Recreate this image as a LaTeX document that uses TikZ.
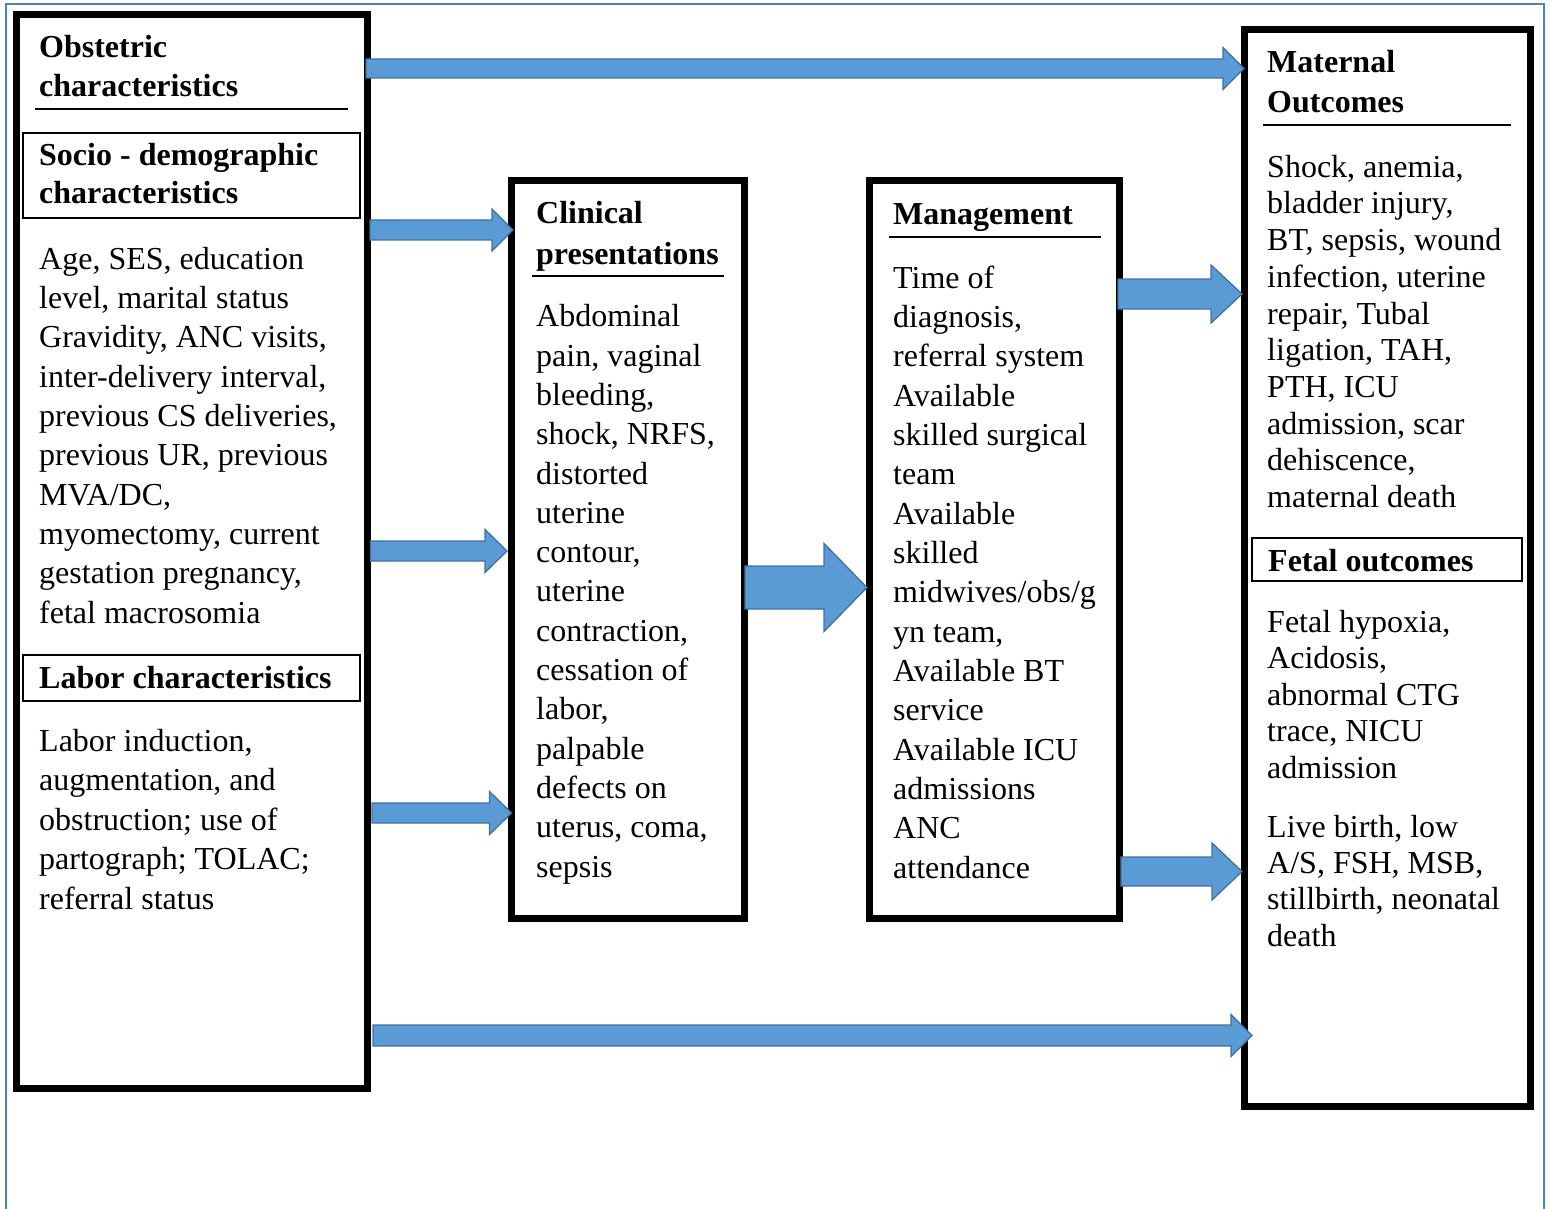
\documentclass[tikz,border=0pt]{standalone}
\usepackage{fontspec}
\setmainfont{Liberation Serif}
\usetikzlibrary{calc}
\definecolor{framec}{HTML}{4F81BD}
\definecolor{arrfill}{HTML}{5B9BD5}
\definecolor{arrline}{HTML}{41719C}
\tikzset{
  bigbox/.style={draw=black, line width=7pt, fill=white, inner sep=0pt, outer sep=0pt, anchor=north west},
  subbox/.style={draw=black, line width=1.8pt, inner sep=0pt, outer sep=0pt, anchor=north west},
  txt/.style={inner sep=0pt, align=left, anchor=base west, font=\fontsize{32}{39.33}\selectfont},
  txtr/.style={inner sep=0pt, align=left, anchor=base west, font=\fontsize{32}{36.7}\selectfont},
  head/.style={inner sep=0pt, align=left, anchor=base west, font=\fontsize{32}{39}\selectfont\bfseries},
  uline/.style={line width=1.6pt},
  blockarrow/.style={fill=arrfill, draw=arrline, line width=1.3pt, line join=miter},
}
% #1 start point, #2 end point (x of tip), #3 shaft half height, #4 head half height, #5 head length
\newcommand\blockarr[5]{%
  \draw[blockarrow] let \p1=(#1), \p2=(#2) in
    (\x1,\y1+#3pt) -- (\x2-#5pt,\y1+#3pt) -- (\x2-#5pt,\y1+#4pt) -- (\x2,\y1)
    -- (\x2-#5pt,\y1-#4pt) -- (\x2-#5pt,\y1-#3pt) -- (\x1,\y1-#3pt) -- cycle;}
\begin{document}
\begin{tikzpicture}[x=1pt,y=-1pt]
\useasboundingbox (0,0) rectangle (1550,1209);
% outer frame
\draw[framec, line width=2.2pt] (6,1209) -- (6,4) -- (1544,4) -- (1544,1209);

% main boxes
\node[bigbox, minimum width=351, minimum height=1073] (L) at (16,15) {};
\node[bigbox, minimum width=232.5, minimum height=737] (C) at (511.5,181) {};
\node[bigbox, minimum width=249.5, minimum height=737] (M) at (869.5,181) {};
\node[bigbox, minimum width=286, minimum height=1076] (R) at (1244,30) {};

% sub boxes
\node[subbox, minimum width=337, minimum height=85] (Sbox) at (23,133) {};
\node[subbox, minimum width=337, minimum height=46] (Lbbox) at (23,655) {};
\node[subbox, minimum width=270, minimum height=43] (Fbox) at (1252,538) {};

% (text nodes are anchored at the baseline of their last line)
% left column
\node[head] (Lh) at (39,97) {Obstetric\\characteristics};
\draw[uline] (35,109) -- (348,109);
\node[head, font=\fontsize{32}{37.5}\selectfont\bfseries] (Sh) at (39,203.5) {Socio - demographic\\characteristics};
\node[txt] (Lb) at (39,623) {Age, SES, education\\level, marital status\\Gravidity, ANC visits,\\inter-delivery interval,\\previous CS deliveries,\\previous UR, previous\\MVA/DC,\\myomectomy, current\\gestation pregnancy,\\fetal macrosomia};
\node[head] (Labh) at (39,688) {Labor characteristics};
\node[txt, font=\fontsize{32}{39.5}\selectfont] (Labb) at (39,909) {Labor induction,\\augmentation, and\\obstruction; use of\\partograph; TOLAC;\\referral status};

% clinical
\node[head, font=\fontsize{32}{40}\selectfont\bfseries] (Ch) at (536,264) {Clinical\\presentations};
\draw[uline] (532,276) -- (724,276);
\node[txt, font=\fontsize{32}{39.29}\selectfont] (Cb) at (536,877) {Abdominal\\pain, vaginal\\bleeding,\\shock, NRFS,\\distorted\\uterine\\contour,\\uterine\\contraction,\\cessation of\\labor,\\palpable\\defects on\\uterus, coma,\\sepsis};

% management
\node[head] (Mh) at (893,225) {Management};
\draw[uline] (889,237) -- (1101,237);
\node[txt] (Mb) at (893,878) {Time of\\diagnosis,\\referral system\\Available\\skilled surgical\\team\\Available\\skilled\\midwives/obs/g\\yn team,\\Available BT\\service\\Available ICU\\admissions\\ANC\\attendance};

% right column
\node[head, font=\fontsize{32}{40}\selectfont\bfseries] (Rh) at (1267,113) {Maternal\\Outcomes};
\draw[uline] (1263,125) -- (1511,125);
\node[txtr] (Rb) at (1267,507.5) {Shock, anemia,\\bladder injury,\\BT, sepsis, wound\\infection, uterine\\repair, Tubal\\ligation, TAH,\\PTH, ICU\\admission, scar\\dehiscence,\\maternal death};
\node[head] (Fh) at (1268,571) {Fetal outcomes};
\node[txtr, font=\fontsize{32}{36.5}\selectfont] (Fb) at (1267,778) {Fetal hypoxia,\\Acidosis,\\abnormal CTG\\trace, NICU\\admission};
\node[txtr, font=\fontsize{32}{36.3}\selectfont] (Fb2) at (1267,946) {Live birth, low\\A/S, FSH, MSB,\\stillbirth, neonatal\\death};

% arrow levels
\coordinate (y1) at (0,68.5);
\coordinate (y2) at (0,230);
\coordinate (y3) at (0,551);
\coordinate (y4) at (0,813);
\coordinate (y5) at (0,587.5);
\coordinate (y6) at (0,294);
\coordinate (y7) at (0,871.5);
\coordinate (y8) at (0,1035.5);

% arrows
\blockarr{$(L.east|-y1)+(-1,0)$}{R.west}{9.5}{21}{21}
\blockarr{$(L.east|-y2)+(3,0)$}{$(C.west)+(1.5,0)$}{10}{21}{21}
\blockarr{$(L.east|-y3)+(3.5,0)$}{$(C.west)+(-4.5,0)$}{10}{21.5}{22}
\blockarr{$(L.east|-y4)+(5,0)$}{C.west}{10}{21.5}{22}
\blockarr{$(C.east|-y5)+(1,0)$}{$(M.west)+(-2.5,0)$}{21.5}{44}{43}
\blockarr{$(M.east|-y6)+(-1,0)$}{$(R.west)+(-2,0)$}{15}{29}{31}
\blockarr{$(M.east|-y7)+(2,0)$}{$(R.west)+(-2,0)$}{14.5}{28.5}{30}
\blockarr{$(L.east|-y8)+(6,0)$}{$(R.west)+(8,0)$}{10.5}{21}{21}
\end{tikzpicture}
\end{document}
